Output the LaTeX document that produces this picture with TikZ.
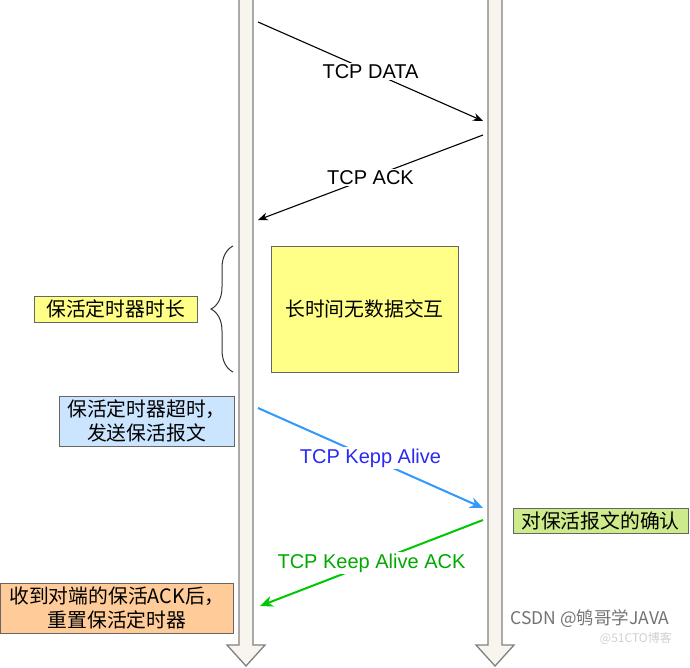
\documentclass[tikz,border=0pt]{standalone}
\usepackage{fontspec}
\setmainfont{Liberation Sans}
\newfontfamily\cjk{Noto Sans CJK SC}
\usetikzlibrary{arrows.meta,decorations.pathreplacing}

\definecolor{noteyellow}{HTML}{FFFF88}
\definecolor{noteblue}{HTML}{CCE5FF}
\definecolor{notegreen}{HTML}{CDEB8B}
\definecolor{noteorange}{HTML}{FFCC99}
\definecolor{lifefill}{HTML}{F8F5EE}
\definecolor{kablue}{HTML}{3399FF}
\definecolor{katext}{HTML}{2A2AF5}
\definecolor{ackgreen}{HTML}{00C800}
\definecolor{acktext}{HTML}{00A800}

\begin{document}
\begin{tikzpicture}[
  x=1pt, y=-1pt,
  lifeline/.style={draw=black!50, line width=1.3pt, fill=lifefill, line join=miter},
  note/.style={rectangle, draw=black!60, line width=0.9pt, align=center,
               font=\cjk\fontsize{19.8}{24}\selectfont, inner sep=0pt},
  msg/.style={draw, line width=1.1pt, -{Stealth[length=10pt,width=8pt]}},
  lbl/.style={fill=white, inner sep=1.5pt, font=\fontsize{20}{23}\selectfont, midway}
]
\useasboundingbox (0,0) rectangle (690,667);
\fill[white] (0,0) rectangle (690,667);

% lifelines
\foreach \cx in {246,495}
  \draw[lifeline] (\cx-7,-3) -- (\cx-7,645) -- (\cx-19,645) -- (\cx,666)
                  -- (\cx+19,645) -- (\cx+7,645) -- (\cx+7,-3);

% notes
\node[note, fill=noteyellow, minimum width=187, minimum height=126] (idle)
  at (364.5,309) {长时间无数据交互};
\node[note, fill=noteyellow, minimum width=163, minimum height=26] (timer)
  at (115.5,309) {保活定时器时长};
\node[note, fill=noteblue, minimum width=175, minimum height=50] (expire)
  at (146.5,421) {保活定时器超时，\\发送保活报文};
\node[note, fill=notegreen, minimum width=175, minimum height=25] (confirm)
  at (600.5,520.5) {对保活报文的确认};
\node[note, fill=noteorange, minimum width=233, minimum height=50] (reset)
  at (117,608) {收到对端的保活ACK后，\\重置保活定时器};

% brace
\draw[black!80, line width=1pt, decorate, decoration={brace, amplitude=22pt}]
  (233,372) -- (233,246);

% messages
\coordinate (dataS) at (258,22);
\coordinate (dataE) at (483,121);
\coordinate (ackS)  at (483,135);
\coordinate (ackE)  at (258,220);
\coordinate (kaS)   at (258,408);
\coordinate (kaE)   at (483,508);
\coordinate (kaackS) at (483,520);
\coordinate (kaackE) at (260,606);

\draw[msg] (dataS) -- node[lbl] {TCP DATA} (dataE);
\draw[msg] (ackS) -- node[lbl] {TCP ACK} (ackE);
\draw[msg, draw=kablue, line width=2pt, -{Stealth[length=13pt,width=11pt]}]
  (kaS) -- node[lbl, text=katext] {TCP Kepp Alive} (kaE);
\draw[msg, draw=ackgreen, line width=2pt, -{Stealth[length=13pt,width=11pt]}]
  (kaackS) -- node[lbl, text=acktext] {TCP Keep Alive ACK} (kaackE);

% watermark
\node[text=black!55, font=\cjk\fontsize{17.5}{19}\selectfont] (mark) at (590,619) {CSDN @鸲哥学JAVA};
\node[text=black!18, font=\cjk\fontsize{12}{14}\selectfont, anchor=north east, inner sep=1pt]
  (mark2) at (mark.south east) {@51CTO博客};
\end{tikzpicture}
\end{document}
